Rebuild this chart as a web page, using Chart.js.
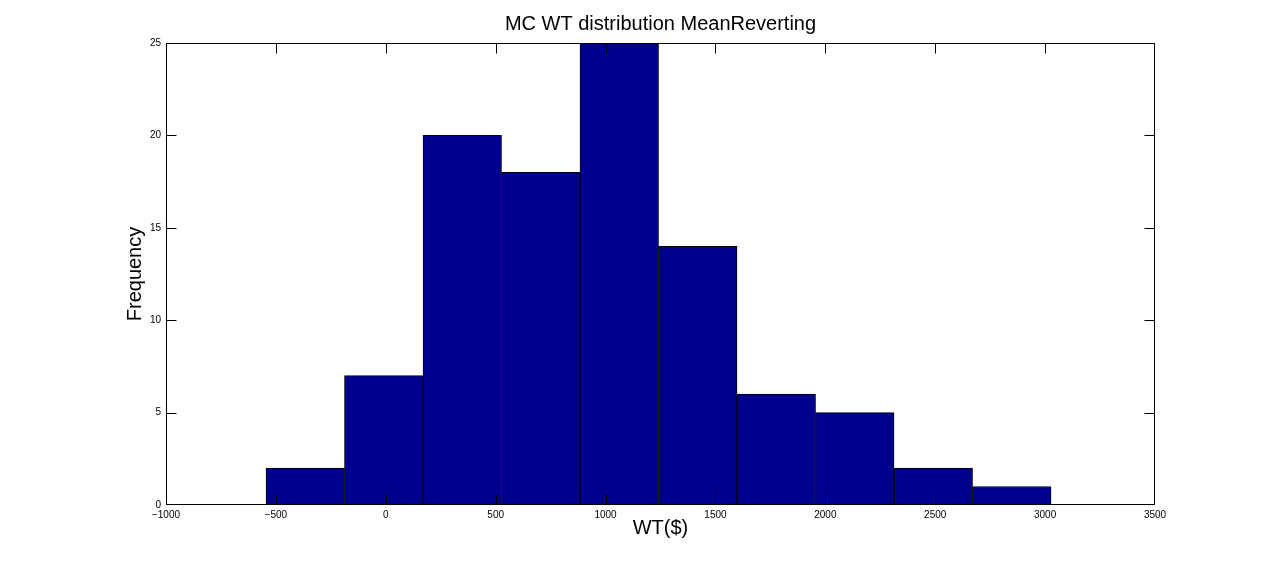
<!DOCTYPE html>
<html>
<head>
<meta charset="utf-8">
<script src="https://cdn.jsdelivr.net/npm/chart.js@4"></script>
<style>
  html, body { margin: 0; padding: 0; background: #fff; }
  #wrap { width: 1277px; height: 567px; position: relative; }
</style>
</head>
<body>
<div id="wrap"><canvas id="c" width="1277" height="567"></canvas></div>
<script>
// Histogram bins (centres, in $) and counts
const binCenters = [-366.4, -9.2, 348.0, 705.2, 1062.4, 1419.6, 1776.8, 2134.0, 2491.2, 2848.4];
const frequencies = [2, 7, 20, 18, 25, 14, 6, 5, 2, 1];
const xTicks = [-1000, -500, 0, 500, 1000, 1500, 2000, 2500, 3000, 3500];
const yTicks = [0, 5, 10, 15, 20, 25];
const chartTitle = 'MC WT distribution MeanReverting';
const xTitle = 'WT($)';
const yTitle = 'Frequency';

const FONT = '"Liberation Sans", Arial, Helvetica, sans-serif';

const frameTicks = {
  id: 'frameTicks',
  afterDatasetsDraw(chart) {
    const {ctx, chartArea: a, scales} = chart;
    const l = Math.round(a.left) + 0.5, r = Math.round(a.right) - 0.5;
    const t = Math.round(a.top) + 0.5, b = Math.round(a.bottom) - 0.5;
    ctx.save();
    ctx.strokeStyle = '#000';
    ctx.lineWidth = 1;
    ctx.beginPath();
    ctx.rect(l, t, r - l, b - t);
    const L = 10;
    xTicks.forEach(v => {
      const px = Math.min(r, Math.max(l, Math.round(scales.x.getPixelForValue(v)) + 0.5));
      ctx.moveTo(px, b); ctx.lineTo(px, b - L);
      ctx.moveTo(px, t); ctx.lineTo(px, t + L);
    });
    yTicks.forEach(v => {
      const py = Math.min(b, Math.max(t, Math.round(scales.y.getPixelForValue(v)) + 0.5));
      ctx.moveTo(l, py); ctx.lineTo(l + L, py);
      ctx.moveTo(r, py); ctx.lineTo(r - L, py);
    });
    ctx.stroke();
    ctx.restore();
  }
};

new Chart(document.getElementById('c'), {
  type: 'bar',
  data: {
    datasets: [{
      data: binCenters.map((x, i) => ({x: x, y: frequencies[i]})),
      backgroundColor: '#00008F',
      borderColor: '#000000',
      borderWidth: 1,
      borderSkipped: false,
      barPercentage: 1.0,
      categoryPercentage: 1.0
    }]
  },
  options: {
    responsive: false,
    animation: false,
    devicePixelRatio: 1,
    layout: { padding: { left: 0, right: 122, top: 0, bottom: 0 } },
    plugins: {
      legend: { display: false },
      tooltip: { enabled: false },
      title: {
        display: true,
        text: chartTitle,
        fullSize: false,
        color: '#000',
        font: { family: FONT, size: 20, weight: 'normal', lineHeight: 1.2 },
        padding: { top: 12, bottom: 7 }
      }
    },
    scales: {
      x: {
        type: 'linear',
        min: -1000, max: 3500,
        offset: false,
        grid: { display: false, drawTicks: false },
        border: { display: false },
        afterBuildTicks: s => { s.ticks = xTicks.map(v => ({value: v})); },
        afterFit: s => { s.height = 62; },
        ticks: {
          color: '#000', padding: 4, maxRotation: 0, autoSkip: false,
          font: { family: FONT, size: 10 },
          callback: v => String(v).replace('-', '\u2212')
        },
        title: {
          display: true, text: xTitle, color: '#000',
          font: { family: FONT, size: 20, lineHeight: 1.2 },
          padding: { top: 0, bottom: 27 }
        }
      },
      y: {
        type: 'linear',
        min: 0, max: 25,
        grid: { display: false, drawTicks: false },
        border: { display: false },
        afterBuildTicks: s => { s.ticks = yTicks.map(v => ({value: v})); },
        afterFit: s => { s.width = 166; },
        ticks: {
          color: '#000', padding: 5, autoSkip: false,
          font: { family: FONT, size: 10 }
        },
        title: {
          display: true, text: yTitle, color: '#000',
          font: { family: FONT, size: 20, lineHeight: 1.2 },
          padding: { top: 123, bottom: 0 }
        }
      }
    }
  },
  plugins: [frameTicks]
});
</script>
</body>
</html>
